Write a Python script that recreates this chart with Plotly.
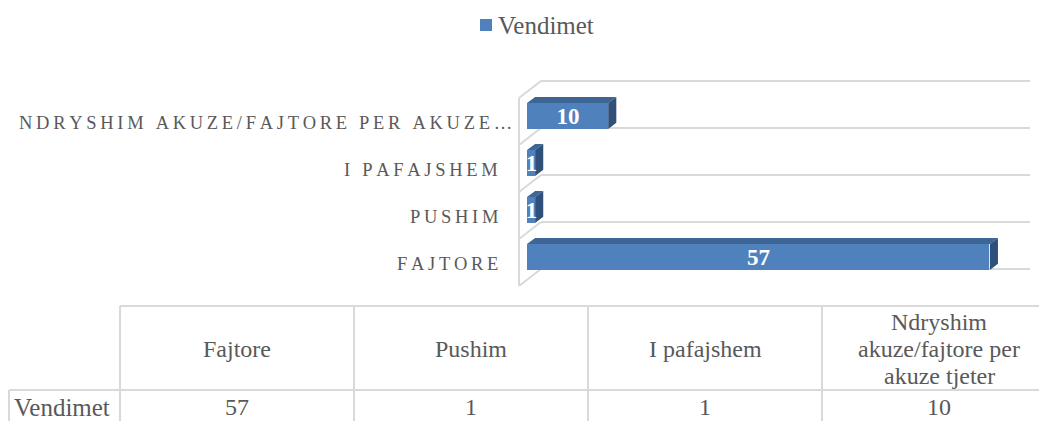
import plotly.graph_objects as go

# ---------------- data ----------------
categories = ["Fajtore", "Pushim", "I pafajshem", "Ndryshim akuze/fajtore per akuze tjeter"]
axis_labels = ["FAJTORE", "PUSHIM", "I PAFAJSHEM", "NDRYSHIM AKUZE/FAJTORE PER AKUZE…"]
table_headers = ["Fajtore", "Pushim", "I pafajshem", "Ndryshim<br>akuze/fajtore per<br>akuze tjeter"]
series_name = "Vendimet"
values = [57, 1, 1, 10]

# ---------------- style / layout constants ----------------
W, H = 1047, 421
PAGE_OFF = 8                # page body margin in the browser
FONT = "Liberation Serif"
GRAY = "#595959"
GRID = "#D9D9D9"
BLUE = "#4F81BD"
TOP = "#3D6596"
SIDE = "#2F5079"

# pixel calibration of the value / category axes (screen pixels)
PX0, PXU = 527.0, 8.12      # x pixel of value 0, pixels per unit
PY0, PYU = 257.0, 47.0      # y pixel of first category, pixels per category
X_RANGE = [-1.3, 62.3]
Y_RANGE = [-0.75, 3.85]

def pxp(x):  # screen pixel -> paper x
    return (x - PAGE_OFF) / W

def pyp(y):  # screen pixel -> paper y
    return 1 - (y - PAGE_OFF) / H

x_dom = [pxp(PX0 + X_RANGE[0] * PXU), pxp(PX0 + X_RANGE[1] * PXU)]
y_dom = [pyp(PY0 - Y_RANGE[0] * PYU), pyp(PY0 - Y_RANGE[1] * PYU)]

BAR_W = 0.55
HALF = BAR_W / 2
DX, DY = 1.0, 0.13          # bar depth in data units
WALL_X = -0.985             # front edge of left wall
WDX, WDY = 2.7, 0.362       # wall depth
WALL_OFF = -0.117           # front wall offset below category boundary
X_END = 61.95

idx = list(range(len(categories)))

fig = go.Figure()
fig.add_trace(go.Bar(
    x=values, y=idx, orientation="h", width=BAR_W,
    marker=dict(color=BLUE, line=dict(width=0)),
    name=series_name, showlegend=False,
    texttemplate="<b>%{x}</b>", textposition="inside", insidetextanchor="middle",
    textangle=0,
    textfont=dict(family=FONT, size=23, color="white"),
    cliponaxis=False, hoverinfo="skip",
))

shapes = []
# walls / gridlines
boundaries = [k - 0.5 for k in range(len(categories) + 1)]
shapes.append(dict(type="line", xref="x", yref="y",
                   x0=WALL_X, x1=WALL_X,
                   y0=boundaries[0] + WALL_OFF, y1=boundaries[-1] + WALL_OFF,
                   line=dict(color=GRID, width=2), layer="below"))
for b in boundaries:
    shapes.append(dict(type="line", xref="x", yref="y",
                       x0=WALL_X, y0=b + WALL_OFF,
                       x1=WALL_X + WDX, y1=b + WALL_OFF + WDY,
                       line=dict(color=GRID, width=2), layer="below"))
    shapes.append(dict(type="line", xref="x", yref="y",
                       x0=WALL_X + WDX, y0=b + WALL_OFF + WDY,
                       x1=X_END, y1=b + WALL_OFF + WDY,
                       line=dict(color=GRID, width=2), layer="below"))

# 3D faces of the bars
for k, v in zip(idx, values):
    top = f"M 0,{k + HALF} L {v},{k + HALF} L {v + DX},{k + HALF + DY} L {DX},{k + HALF + DY} Z"
    side = f"M {v},{k - HALF} L {v},{k + HALF} L {v + DX},{k + HALF + DY} L {v + DX},{k - HALF + DY} Z"
    shapes.append(dict(type="path", xref="x", yref="y", path=top,
                       fillcolor=TOP, line=dict(width=0), layer="below"))
    shapes.append(dict(type="path", xref="x", yref="y", path=side,
                       fillcolor=SIDE, line=dict(width=0), layer="below"))

# legend key (square + name)
shapes.append(dict(type="rect", xref="paper", yref="paper",
                   x0=pxp(480), x1=pxp(492), y0=pyp(31), y1=pyp(19),
                   fillcolor=BLUE, line=dict(width=0)))

# data table grid
COL_X = [120 + 234 * i for i in range(len(categories) + 1)]
T_TOP, T_MID, T_BOT = 306, 390, 440
def pline(x0, y0, x1, y1):
    return dict(type="line", xref="paper", yref="paper",
                x0=pxp(x0), y0=pyp(y0), x1=pxp(x1), y1=pyp(y1),
                line=dict(color=GRID, width=2))
shapes.append(pline(COL_X[0], T_TOP, W + 20, T_TOP))
shapes.append(pline(9, T_MID, W + 20, T_MID))
shapes.append(pline(9, T_MID, 9, T_BOT))
for cx in COL_X[:-1]:
    shapes.append(pline(cx, T_TOP, cx, T_BOT))

annotations = []
annotations.append(dict(text=series_name, xref="paper", yref="paper",
                        x=pxp(496), y=pyp(25), xanchor="left", yanchor="middle",
                        showarrow=False, font=dict(family=FONT, size=25, color=GRAY)))

# category axis labels (letter-spaced caps)
for k, lab in zip(idx, axis_labels):
    spaced = "\u2009".join(lab)
    extra = 14 if lab.endswith("…") else 0
    annotations.append(dict(text=spaced, xref="paper", yref="y",
                            x=pxp(500 + extra), y=k, yshift=-7,
                            xanchor="right", yanchor="middle", showarrow=False,
                            font=dict(family=FONT, size=18.5, color=GRAY)))

# table text
LINE_H = 27
for i, (hdr, v) in enumerate(zip(table_headers, values)):
    cx = (COL_X[i] + COL_X[i + 1]) / 2
    lines = hdr.split("<br>")
    for j, ln in enumerate(lines):
        cy = 349 + (j - (len(lines) - 1) / 2) * LINE_H
        annotations.append(dict(text=ln, xref="paper", yref="paper",
                                x=pxp(cx), y=pyp(cy), xanchor="center", yanchor="middle",
                                showarrow=False, font=dict(family=FONT, size=24, color=GRAY)))
    annotations.append(dict(text=str(v), xref="paper", yref="paper",
                            x=pxp(cx), y=pyp(407), xanchor="center", yanchor="middle",
                            showarrow=False, font=dict(family=FONT, size=24, color=GRAY)))
annotations.append(dict(text=series_name, xref="paper", yref="paper",
                        x=pxp(12), y=pyp(407), xanchor="left", yanchor="middle",
                        showarrow=False, font=dict(family=FONT, size=25, color=GRAY)))

fig.update_layout(
    width=W, height=H,
    margin=dict(l=0, r=0, t=0, b=0),
    paper_bgcolor="white", plot_bgcolor="white",
    showlegend=False,
    xaxis=dict(range=X_RANGE, domain=x_dom, showgrid=False, zeroline=False,
               showticklabels=False, showline=False, ticks=""),
    yaxis=dict(range=Y_RANGE, domain=y_dom, showgrid=False, zeroline=False,
               showticklabels=False, showline=False, ticks=""),
    uniformtext=dict(mode="show", minsize=23),
    shapes=shapes,
    annotations=annotations,
    bargap=0,
)

fig.write_html("out.html")
